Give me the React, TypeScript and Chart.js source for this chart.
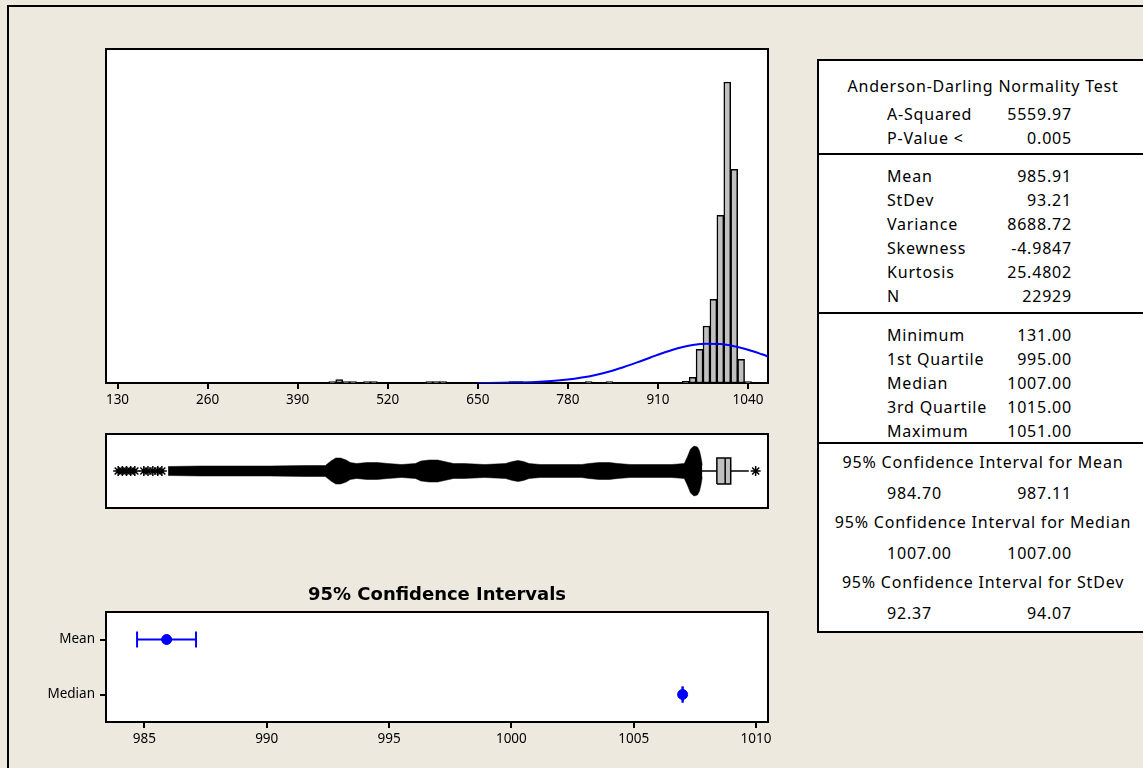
import React, { useEffect, useRef } from "react";
import { Chart, registerables } from "chart.js";
Chart.register(...registerables);

// ---------- Histogram data ----------
const histBins = [440, 450, 460, 470, 490, 500, 580, 590, 600, 700, 710, 810, 840, 950, 960, 970, 980, 990, 1000, 1010, 1020, 1030, 1040];
const histCounts = [38, 87, 38, 38, 38, 38, 38, 38, 38, 38, 38, 38, 38, 40, 146, 863, 1459, 2143, 4293, 7706, 5471, 607, 38];
const histTicks = [130, 260, 390, 520, 650, 780, 910, 1040];
const fitX = [650, 700, 740, 780, 800, 820, 840, 860, 880, 900, 920, 940, 960, 980, 1000, 1020, 1040, 1060, 1069];
const fitY = [0, 10, 30, 87, 138, 207, 294, 404, 527, 658, 786, 896, 973, 1006, 998, 942, 852, 735, 678];

// ---------- Boxplot data ----------
const q1 = 995;
const medianVal = 1007;
const q3 = 1015;
const whiskerLow = 965;
const whiskerHigh = 1041;
const outlierStars = [131, 137, 143, 149, 155, 168, 174, 181, 188, 194, 1051];
const outlierBandX = [203, 250, 300, 350, 400, 430, 438, 445, 452, 460, 466, 475, 490, 505, 520, 540, 560, 568, 580, 592, 605, 615, 630, 660, 690, 700, 708, 716, 724, 740, 770, 800, 810, 825, 840, 852, 870, 900, 930, 948, 953, 957, 962, 967, 970, 972, 974];
const outlierBandSpread = [4.5, 5, 5, 5, 5.5, 5.5, 10, 13, 13, 11, 8.5, 7.5, 8.5, 8.5, 7.5, 6.5, 7.5, 10, 11, 11, 9, 7.5, 7.5, 6.5, 7.5, 9.5, 10.5, 9.5, 7.5, 6.5, 6.5, 6.5, 7.5, 8.5, 8.5, 7.5, 6.5, 6.5, 6.5, 7.5, 15, 22, 25, 24, 20, 14, 6];

// ---------- Confidence interval data ----------
const ciCats = ["Median", "Mean"];
const ciCenter = [1007.0, 985.91];
const ciLow = [1007.0, 984.7];
const ciHigh = [1007.0, 987.11];
const ciTicks = [985, 990, 995, 1000, 1005, 1010];

// ---------- Summary table ----------
const adTitle = "Anderson-Darling Normality Test";
const adLabels = ["A-Squared", "P-Value <"];
const adValues = ["5559.97", "0.005"];
const momentLabels = ["Mean", "StDev", "Variance", "Skewness", "Kurtosis", "N"];
const momentValues = ["985.91", "93.21", "8688.72", "-4.9847", "25.4802", "22929"];
const quantLabels = ["Minimum", "1st Quartile", "Median", "3rd Quartile", "Maximum"];
const quantValues = ["131.00", "995.00", "1007.00", "1015.00", "1051.00"];
const ciTitles = ["95% Confidence Interval for Mean", "95% Confidence Interval for Median", "95% Confidence Interval for StDev"];
const ciTableLow = ["984.70", "1007.00", "92.37"];
const ciTableHigh = ["987.11", "1007.00", "94.07"];

const BG = "#EDE9DF";
const FONT = "'Noto Sans', 'DejaVu Sans', sans-serif";
const BLUE = "#0000FF";
const HX_MIN = 113.4;
const HX_MAX = 1068.8;

const framePlugin = {
  id: "frame",
  beforeDatasetsDraw(chart: any) {
    const { ctx, chartArea: a } = chart;
    ctx.save();
    ctx.fillStyle = "#fff";
    ctx.fillRect(a.left, a.top, a.right - a.left, a.bottom - a.top);
    ctx.strokeStyle = "#000";
    ctx.lineWidth = 2;
    ctx.strokeRect(a.left, a.top, a.right - a.left, a.bottom - a.top);
    ctx.restore();
  },
};

const tickFont = { family: FONT, size: 13.5 };

function histConfig(): any {
  return {
    type: "bar",
    data: {
      datasets: [
        {
          type: "line",
          data: fitX.map((x, i) => ({ x, y: fitY[i] })),
          borderColor: BLUE,
          borderWidth: 2,
          pointRadius: 0,
          cubicInterpolationMode: "monotone",
          fill: false,
          order: 0,
        },
        {
          type: "bar",
          data: histBins.map((x, i) => ({ x, y: histCounts[i] })),
          backgroundColor: "#C0C0C0",
          borderColor: "#000",
          borderWidth: 1.5,
          borderSkipped: false,
          barPercentage: 1,
          categoryPercentage: 1,
          order: 1,
        },
      ],
    },
    options: {
      responsive: false,
      animation: false,
      layout: { padding: { left: 26, top: 9, right: 32, bottom: 7 } },
      plugins: { legend: { display: false }, tooltip: { enabled: false } },
      scales: {
        x: {
          type: "linear",
          min: HX_MIN,
          max: HX_MAX,
          offset: false,
          afterBuildTicks: (s: any) => {
            s.ticks = histTicks.map((v) => ({ value: v }));
          },
          afterFit: (s: any) => {
            s.height = 30;
          },
          ticks: { autoSkip: false, maxRotation: 0, color: "#000", font: tickFont, padding: 3, callback: (v: any) => String(v) },
          grid: { offset: false, drawOnChartArea: false, drawTicks: true, tickLength: 6, color: "#000", lineWidth: 2 },
          border: { display: false },
        },
        y: { display: false, min: 0, max: 8550 },
      },
    },
    plugins: [framePlugin],
  };
}

function boxConfig(): any {
  const h = 13;
  return {
    type: "line",
    data: {
      datasets: [
        {
          data: [{ x: medianVal, y: -h }, { x: medianVal, y: h }],
          borderColor: "#000",
          borderWidth: 1.5,
          pointRadius: 0,
          order: -2,
        },
        {
          data: [
            { x: q1, y: -h },
            { x: q3, y: -h },
            { x: q3, y: h },
            { x: q1, y: h },
            { x: q1, y: -h },
          ],
          borderColor: "#000",
          borderWidth: 1.5,
          backgroundColor: "#C0C0C0",
          fill: "shape",
          pointRadius: 0,
          order: -1,
        },
        {
          data: [{ x: whiskerLow, y: 0 }, { x: q1, y: 0 }],
          borderColor: "#000",
          borderWidth: 1.5,
          pointRadius: 0,
          order: 0,
        },
        {
          data: [{ x: q3, y: 0 }, { x: whiskerHigh, y: 0 }],
          borderColor: "#000",
          borderWidth: 1.5,
          pointRadius: 0,
          order: 0,
        },
        {
          data: outlierBandX.map((x, i) => ({ x, y: outlierBandSpread[i] })),
          borderColor: "#000",
          borderWidth: 0.5,
          backgroundColor: "#000",
          pointRadius: 0,
          fill: "+1",
          order: 1,
        },
        {
          data: outlierBandX.map((x, i) => ({ x, y: -outlierBandSpread[i] })),
          borderColor: "#000",
          borderWidth: 0.5,
          pointRadius: 0,
          fill: false,
          order: 1,
        },
        {
          data: outlierStars.map((x) => ({ x, y: 0 })),
          showLine: false,
          pointStyle: "star",
          pointRadius: 5,
          borderColor: "#000",
          pointBorderWidth: 1.5,
          order: 1,
        },
      ],
    },
    options: {
      responsive: false,
      animation: false,
      layout: { padding: { left: 26, top: 14, right: 32, bottom: 12 } },
      plugins: { legend: { display: false }, tooltip: { enabled: false } },
      scales: {
        x: { type: "linear", display: false, min: HX_MIN, max: HX_MAX },
        y: { type: "linear", display: false, min: -37, max: 37 },
      },
    },
    plugins: [framePlugin],
  };
}

function ciConfig(): any {
  const rows = ciCats.map((_, i) => ({
    data: [
      { x: ciLow[i], y: i },
      { x: ciHigh[i], y: i },
    ],
    borderColor: BLUE,
    borderWidth: 2,
    pointStyle: "line",
    pointRotation: 90,
    pointRadius: 8,
    pointBorderWidth: 2,
    pointBorderColor: BLUE,
    order: 1,
  }));
  return {
    type: "line",
    data: {
      datasets: [
        {
          data: ciCenter.map((x, i) => ({ x, y: i })),
          showLine: false,
          pointStyle: "circle",
          pointRadius: 5,
          pointBackgroundColor: BLUE,
          pointBorderColor: BLUE,
          pointBorderWidth: 1,
          order: 0,
        },
        ...rows,
      ],
    },
    options: {
      responsive: false,
      animation: false,
      layout: { padding: { left: 0, top: 0, right: 32, bottom: 8 } },
      plugins: {
        legend: { display: false },
        tooltip: { enabled: false },
        title: {
          display: true,
          text: "95% Confidence Intervals",
          color: "#000",
          fullSize: false,
          font: { family: "'DejaVu Sans', sans-serif", size: 18, weight: "bold", lineHeight: 1.2 },
          padding: { top: 14.2, bottom: 6.2 },
        },
      },
      scales: {
        x: {
          type: "linear",
          min: 983.43,
          max: 1010.49,
          afterBuildTicks: (s: any) => {
            s.ticks = ciTicks.map((v) => ({ value: v }));
          },
          afterFit: (s: any) => {
            s.height = 30;
          },
          ticks: { autoSkip: false, maxRotation: 0, color: "#000", font: tickFont, padding: 3, callback: (v: any) => String(v) },
          grid: { offset: false, drawOnChartArea: false, drawTicks: true, tickLength: 6, color: "#000", lineWidth: 2 },
          border: { display: false },
        },
        y: {
          type: "linear",
          min: -0.5,
          max: 1.5,
          afterBuildTicks: (s: any) => {
            s.ticks = ciCats.map((_, i) => ({ value: i }));
          },
          afterFit: (s: any) => {
            s.width = 86;
          },
          ticks: { autoSkip: false, color: "#000", font: tickFont, padding: 5, callback: (v: any) => ciCats[v] },
          grid: { offset: false, drawOnChartArea: false, drawTicks: true, tickLength: 6, color: "#000", lineWidth: 2 },
          border: { display: false },
        },
      },
    },
    plugins: [framePlugin],
  };
}

function ChartCanvas({ x, y, w, h, config }: { x: number; y: number; w: number; h: number; config: () => any }) {
  const ref = useRef<HTMLCanvasElement>(null);
  useEffect(() => {
    const chart = new Chart(ref.current as HTMLCanvasElement, config());
    return () => chart.destroy();
  }, []);
  return (
    <canvas
      ref={ref}
      width={w}
      height={h}
      style={{ position: "absolute", left: x, top: y, width: w, height: h, display: "block" }}
    />
  );
}

const textBase: React.CSSProperties = {
  position: "absolute",
  height: 24,
  lineHeight: "24px",
  fontFamily: FONT,
  fontSize: 16,
  letterSpacing: "0.8px",
  color: "#000",
  whiteSpace: "nowrap",
};

function LabelRow({ cy, label, value }: { cy: number; label: string; value: string }) {
  return (
    <>
      <div style={{ ...textBase, left: 887, top: cy - 12 }}>{label}</div>
      <div style={{ ...textBase, left: 952, width: 120, top: cy - 12, textAlign: "right" }}>{value}</div>
    </>
  );
}

function CenterRow({ cy, text }: { cy: number; text: string }) {
  return <div style={{ ...textBase, left: 818, width: 330, top: cy - 12, textAlign: "center" }}>{text}</div>;
}

function Divider({ y }: { y: number }) {
  return <div style={{ position: "absolute", left: 817, top: y - 1, width: 400, height: 2, background: "#000" }} />;
}

export default function App() {
  const momentTop = 176;
  const momentStep = 24;
  const quantTop = 335;
  const quantStep = 24;
  const ciTitleY = [462, 522, 582];
  const ciValY = [493, 553, 613];
  return (
    <div
      style={{
        position: "absolute",
        left: 0,
        top: 0,
        width: 1143,
        height: 768,
        background: BG,
        overflow: "hidden",
      }}
    >
      <div
        style={{
          position: "absolute",
          left: 7,
          top: 5,
          width: 2000,
          height: 2000,
          borderLeft: "2px solid #000",
          borderTop: "2px solid #000",
        }}
      />
      <ChartCanvas x={80} y={40} w={720} h={380} config={histConfig} />
      <ChartCanvas x={80} y={420} w={720} h={100} config={boxConfig} />
      <ChartCanvas x={20} y={570} w={780} h={190} config={ciConfig} />

      <div
        style={{
          position: "absolute",
          left: 817,
          top: 59,
          width: 400,
          height: 570,
          border: "2px solid #000",
          background: "#fff",
        }}
      />
      <Divider y={154} />
      <Divider y={313} />
      <Divider y={443} />

      <CenterRow cy={86} text={adTitle} />
      {adLabels.map((l, i) => (
        <LabelRow key={l} cy={114 + i * 24} label={l} value={adValues[i]} />
      ))}
      {momentLabels.map((l, i) => (
        <LabelRow key={l} cy={momentTop + i * momentStep} label={l} value={momentValues[i]} />
      ))}
      {quantLabels.map((l, i) => (
        <LabelRow key={l} cy={quantTop + i * quantStep} label={l} value={quantValues[i]} />
      ))}
      {ciTitles.map((t, i) => (
        <React.Fragment key={t}>
          <CenterRow cy={ciTitleY[i]} text={t} />
          <div style={{ ...textBase, left: 887, top: ciValY[i] - 12 }}>{ciTableLow[i]}</div>
          <div style={{ ...textBase, left: 952, width: 120, top: ciValY[i] - 12, textAlign: "right" }}>{ciTableHigh[i]}</div>
        </React.Fragment>
      ))}
    </div>
  );
}
